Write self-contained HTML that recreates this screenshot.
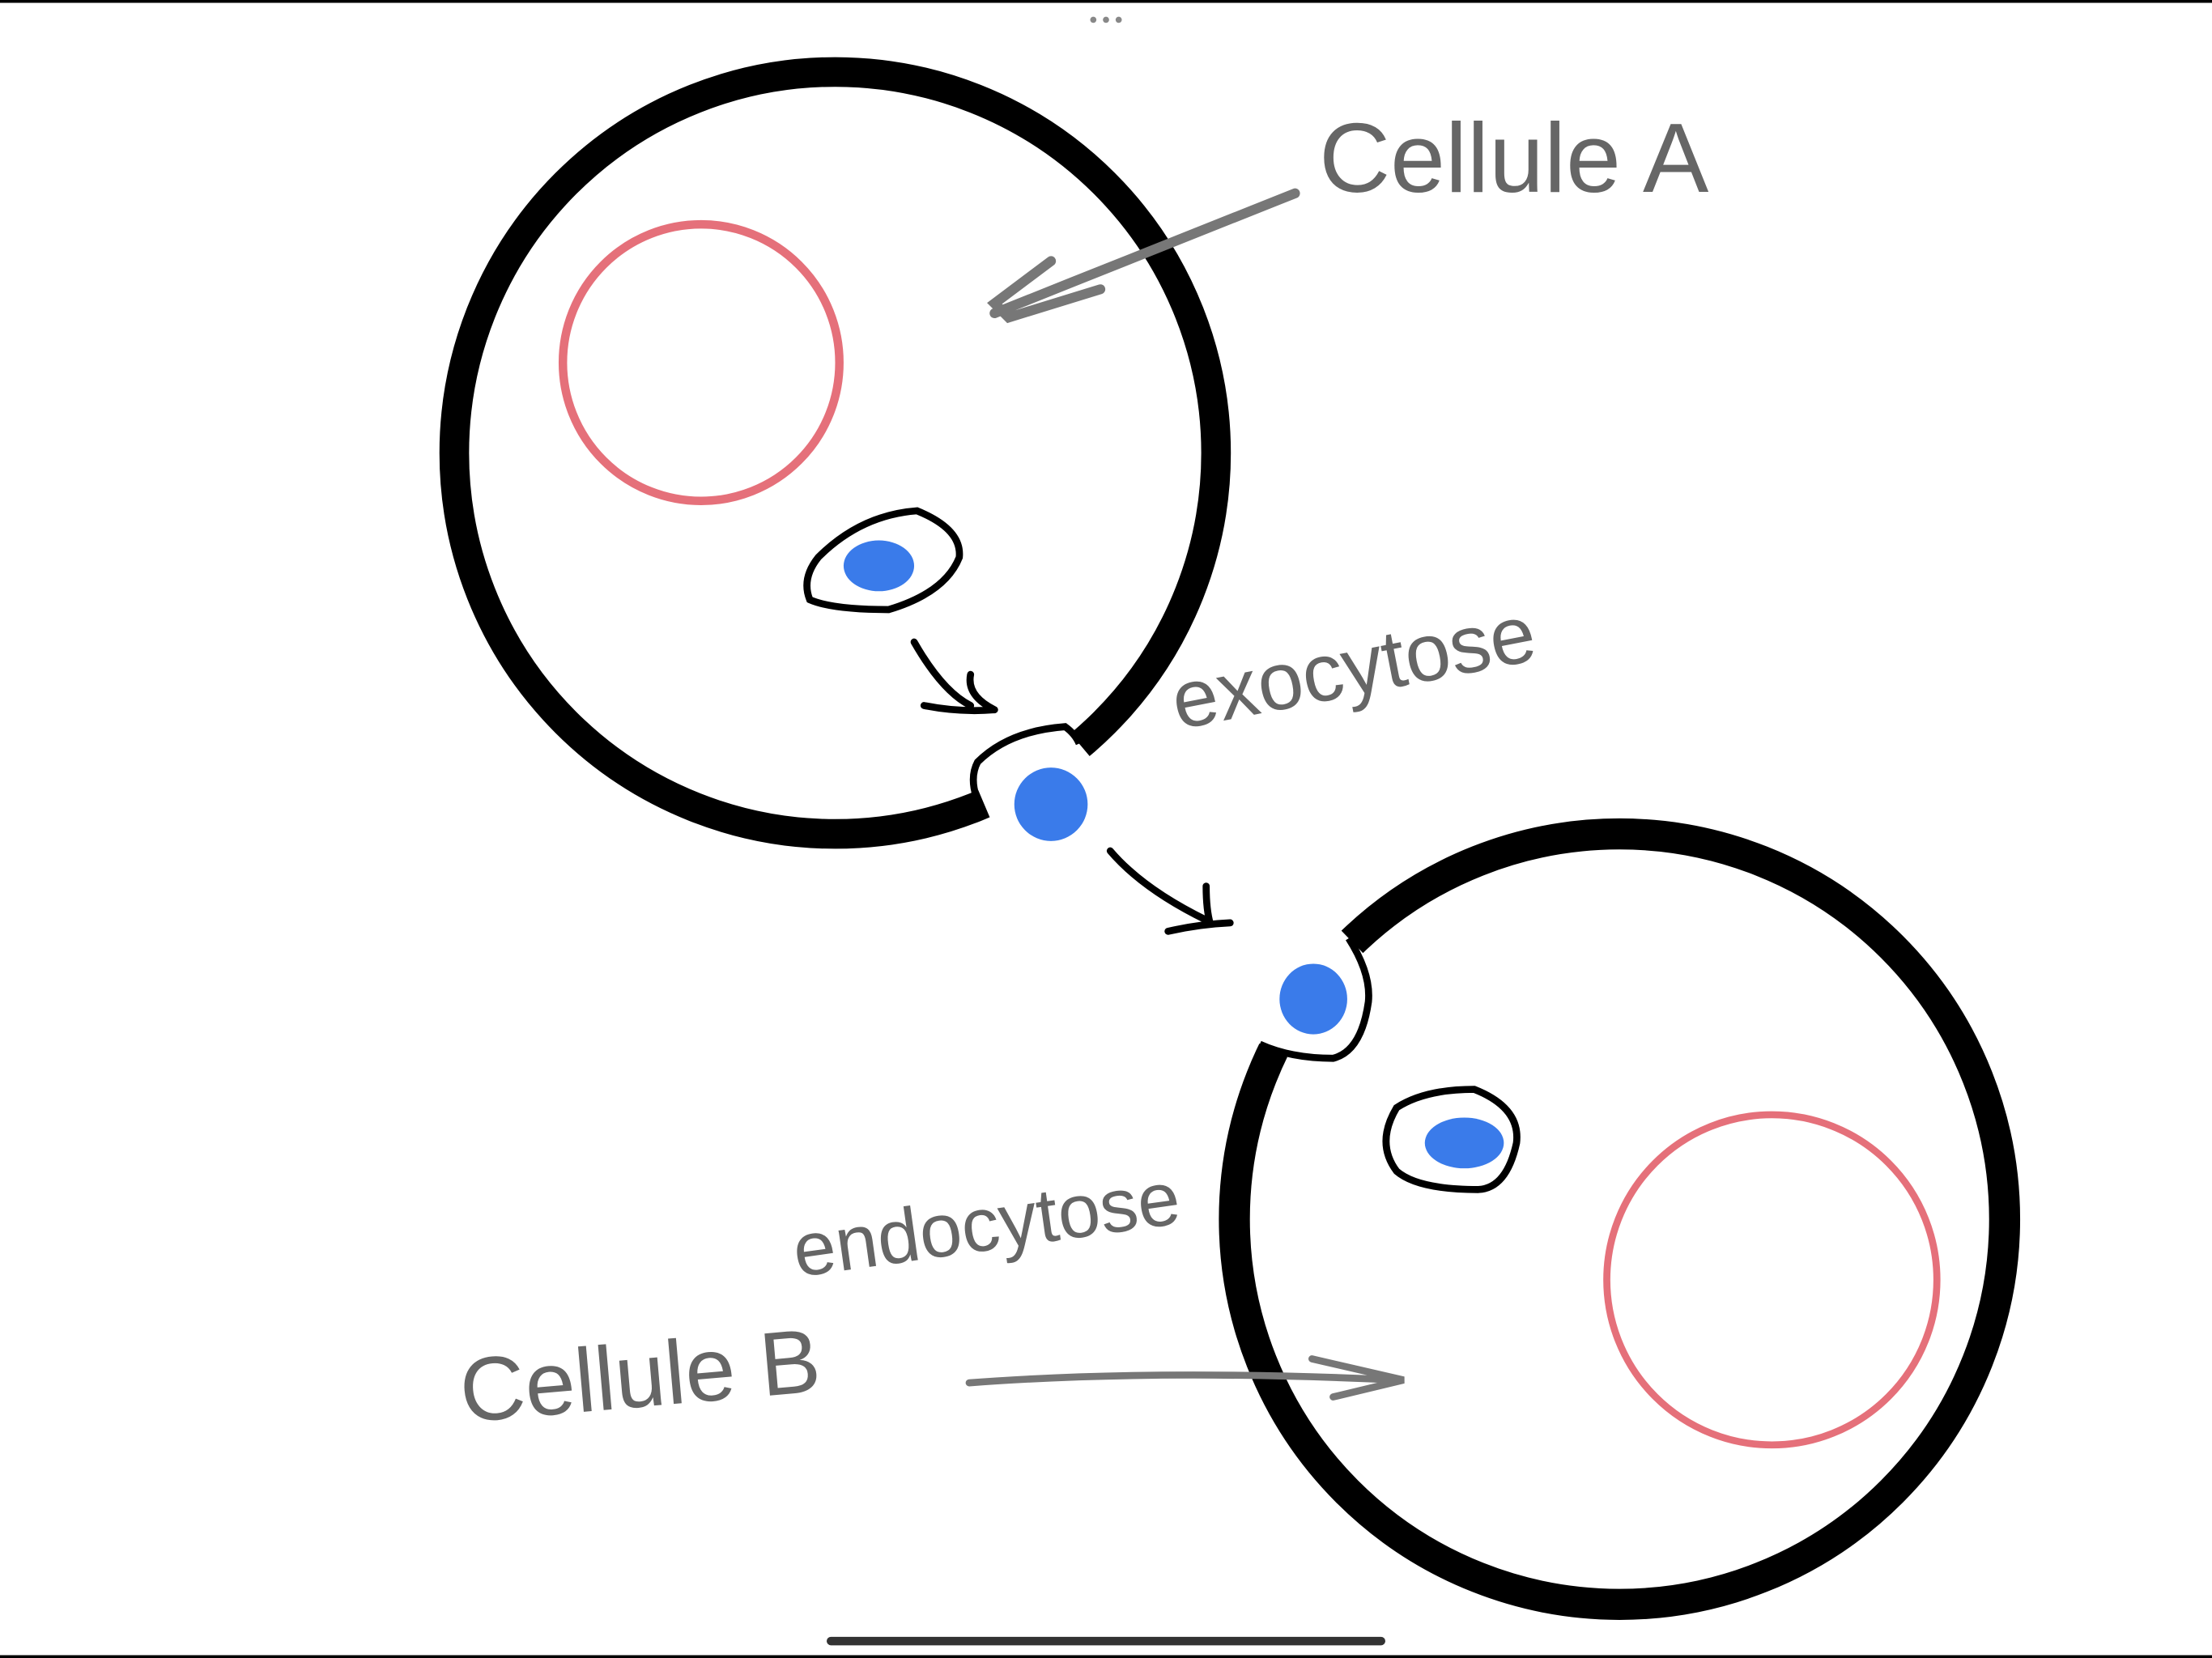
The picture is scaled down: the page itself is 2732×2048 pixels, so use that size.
<!DOCTYPE html>
<html><head><style>html,body{margin:0;padding:0;background:#fff;overflow:hidden}svg{display:block}</style></head>
<body>
<svg width="2732" height="2048" viewBox="0 0 1568 1175" preserveAspectRatio="none" xmlns="http://www.w3.org/2000/svg">
<rect width="1568" height="1175" fill="#fff"/>
<line x1="0" y1="1" x2="1568" y2="1" stroke="#000" stroke-width="2"/>
<line x1="0" y1="1174" x2="1568" y2="1174" stroke="#000" stroke-width="2"/>
<g fill="#888"><circle cx="775" cy="14" r="2.2"/><circle cx="784" cy="14" r="2.2"/><circle cx="793" cy="14" r="2.2"/></g>
<line x1="589" y1="1163" x2="979" y2="1163" stroke="#333" stroke-width="6" stroke-linecap="round"/>
<!-- Cell A -->
<circle cx="592" cy="321" r="270" fill="none" stroke="#000" stroke-width="21"/>
<path d="M765.6 527.8 A270 270 0 0 1 697.5 569.5" fill="none" stroke="#fff" stroke-width="26"/>
<circle cx="497" cy="257" r="98" fill="none" stroke="#e2616c" stroke-width="6" opacity="0.9"/>
<path d="M580 395 Q610 365 650 362 Q682 375 680 395 Q670 420 630 432 Q590 432 574 425 Q568 410 580 395Z" fill="none" stroke="#000" stroke-width="5"/>
<ellipse cx="623" cy="401" rx="25" ry="18" fill="#3a7bea"/>
<path d="M648 455 Q668 490 688 500 M655 500 Q680 505 705 503 M688 478 Q685 493 705 503" fill="none" stroke="#000" stroke-width="5" stroke-linecap="round"/>
<path d="M698 578 Q685 555 693 540 Q715 518 755 515 Q762 520 765 527" fill="none" stroke="#000" stroke-width="5"/>
<circle cx="745" cy="570" r="26" fill="#3a7bea"/>
<path d="M787 603 Q810 630 855 652 M855 628 Q855 645 858 655 M828 660 Q850 655 872 654" fill="none" stroke="#000" stroke-width="5" stroke-linecap="round"/>
<!-- Cell B -->
<circle cx="1148" cy="864" r="273" fill="none" stroke="#000" stroke-width="22"/>
<path d="M903.5 744.8 A272 272 0 0 1 959 668" fill="none" stroke="#fff" stroke-width="28"/>
<circle cx="1256" cy="907" r="117" fill="none" stroke="#e2616c" stroke-width="5" opacity="0.9"/>
<path d="M956 665 Q972 690 970 710 Q965 745 945 750 Q915 750 893 740" fill="none" stroke="#000" stroke-width="5"/>
<ellipse cx="931" cy="708" rx="24" ry="25" fill="#3a7bea"/>
<path d="M990 785 Q1010 772 1045 772 Q1078 785 1075 810 Q1068 842 1048 843 Q1005 843 990 830 Q975 810 990 785Z" fill="none" stroke="#000" stroke-width="5"/>
<ellipse cx="1038" cy="810" rx="28" ry="18" fill="#3a7bea"/>
<!-- Labels -->
<g fill="#666" font-family="'Liberation Sans',sans-serif">
<text x="935" y="136" font-size="70">Cellule  A</text>
<text x="835" y="517" font-size="58" transform="rotate(-11 835 517)">exocytose</text>
<text x="565" y="905" font-size="54" transform="rotate(-8 565 905)">endocytose</text>
<text x="328" y="1008" font-size="64" transform="rotate(-5 328 1008)">Cellule  B</text>
</g>
<path d="M918 137 L760 200 L705 222 M745 185 L705 215 L715 225 L780 205" fill="none" stroke="#777" stroke-width="7" stroke-linecap="round"/>
<path d="M687 980 Q820 970 990 978 M930 963 L995 978 L945 990" fill="none" stroke="#777" stroke-width="5" stroke-linecap="round"/>
</svg>
</body></html>
